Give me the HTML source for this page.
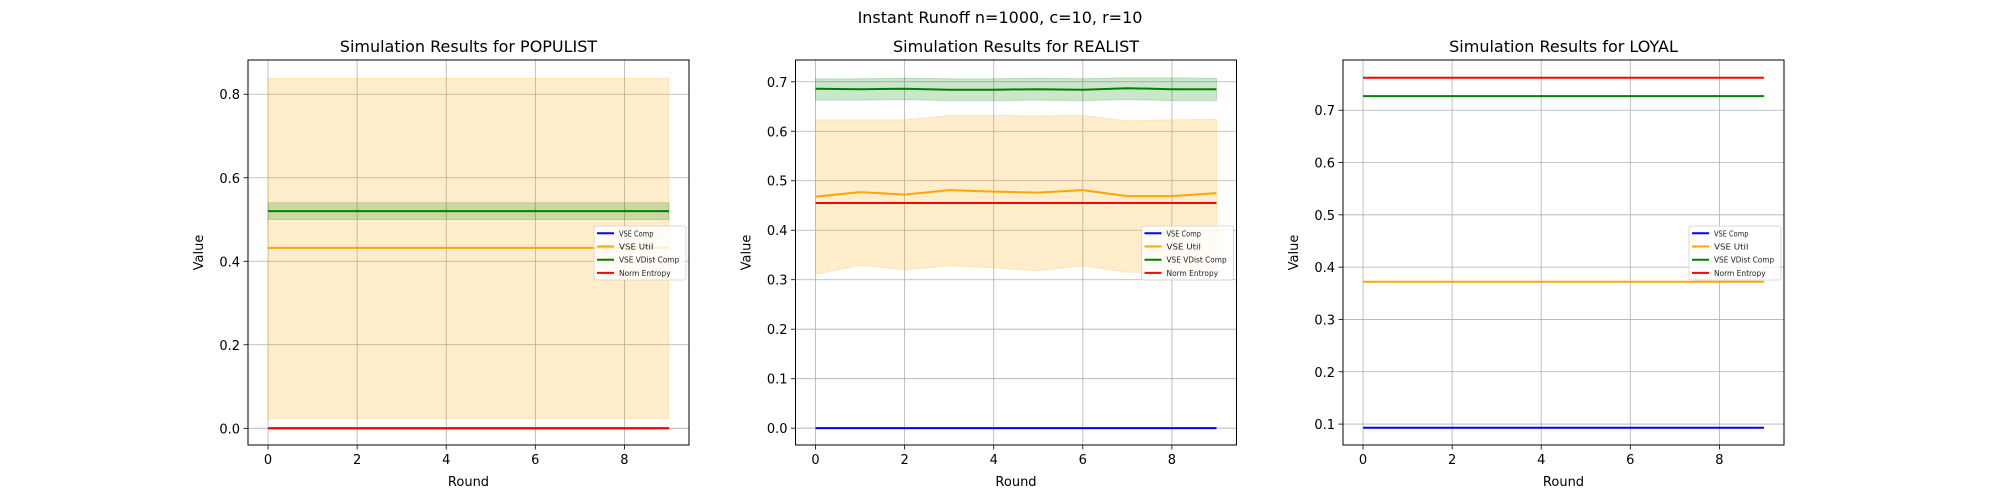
<!DOCTYPE html>
<html><head><meta charset="utf-8"><style>
html,body{margin:0;padding:0;background:#fff;}
svg{display:block;font-family:"DejaVu Sans","Liberation Sans",sans-serif;}
</style></head><body>
<svg id="fig" width="2000" height="500" viewBox="0 0 2000 500" xmlns="http://www.w3.org/2000/svg">
<rect width="2000" height="500" fill="#fff"/>
<text x="1000" y="23" font-size="16" text-anchor="middle" fill="#000">Instant Runoff n=1000, c=10, r=10</text>
</svg>
<script>
const rounds = [0,1,2,3,4,5,6,7,8,9];
const seriesNames = ["VSE Comp","VSE Util","VSE VDist Comp","Norm Entropy"];
const seriesColors = ["#0000ff","#ffa500","#008000","#ff0000"];

// POPULIST
const popComp = [0,0,0,0,0,0,0,0,0,0];
const popUtil = [0.432,0.432,0.432,0.432,0.432,0.432,0.432,0.432,0.432,0.432];
const popUtilLo = [0.023,0.023,0.023,0.023,0.023,0.023,0.023,0.023,0.023,0.023];
const popUtilHi = [0.838,0.838,0.838,0.838,0.838,0.838,0.838,0.838,0.838,0.838];
const popVdist = [0.52,0.52,0.52,0.52,0.52,0.52,0.52,0.52,0.52,0.52];
const popVdistLo = [0.50,0.50,0.50,0.50,0.50,0.50,0.50,0.50,0.50,0.50];
const popVdistHi = [0.54,0.54,0.54,0.54,0.54,0.54,0.54,0.54,0.54,0.54];
const popEnt = [0,0,0,0,0,0,0,0,0,0];
const popTicks = [0.0,0.2,0.4,0.6,0.8];

// REALIST
const realComp = [0,0,0,0,0,0,0,0,0,0];
const realUtil = [0.468,0.477,0.472,0.481,0.478,0.476,0.481,0.469,0.469,0.475];
const realUtilLo = [0.311,0.329,0.320,0.328,0.324,0.318,0.328,0.315,0.315,0.318];
const realUtilHi = [0.623,0.623,0.623,0.632,0.632,0.631,0.632,0.621,0.623,0.624];
const realVdist = [0.686,0.685,0.686,0.684,0.684,0.685,0.684,0.687,0.685,0.685];
const realVdistLo = [0.663,0.663,0.664,0.662,0.662,0.663,0.662,0.664,0.662,0.662];
const realVdistHi = [0.706,0.706,0.707,0.706,0.706,0.707,0.706,0.708,0.708,0.707];
const realEnt = [0.455,0.455,0.455,0.455,0.455,0.455,0.455,0.455,0.455,0.455];
const realTicks = [0.0,0.1,0.2,0.3,0.4,0.5,0.6,0.7];

// LOYAL
const loyComp = [0.093,0.093,0.093,0.093,0.093,0.093,0.093,0.093,0.093,0.093];
const loyUtil = [0.372,0.372,0.372,0.372,0.372,0.372,0.372,0.372,0.372,0.372];
const loyVdist = [0.727,0.727,0.727,0.727,0.727,0.727,0.727,0.727,0.727,0.727];
const loyEnt = [0.762,0.762,0.762,0.762,0.762,0.762,0.762,0.762,0.762,0.762];
const loyTicks = [0.1,0.2,0.3,0.4,0.5,0.6,0.7];

const xTicks = [0,2,4,6,8];

const NS = "http://www.w3.org/2000/svg";
const svg = document.getElementById("fig");
function mk(tag, attrs, parent, text){
  const e = document.createElementNS(NS, tag);
  for (const k in attrs) e.setAttribute(k, attrs[k]);
  if (text !== undefined) e.textContent = text;
  (parent||svg).appendChild(e);
  return e;
}

function panel(key, left, title, ymin, ymax, ticks, decimals, lines, bands){
  const top = 60, bottom = 445, width = 441;
  const xmin = -0.45, xmax = 9.45;
  const X = v => left + (v - xmin) / (xmax - xmin) * width;
  const Y = v => bottom - (v - ymin) / (ymax - ymin) * (bottom - top);
  const g = mk("g", {});
  
  
  const clipId = key + "-clip";
  const cp = mk("clipPath", {id: clipId}, g);
  mk("rect", {x: left, y: top, width: width, height: bottom - top}, cp);
  xTicks.forEach(t => {
    const l = mk("line", {x1: X(t), x2: X(t), y1: top, y2: bottom, stroke: "#b0b0b0", "stroke-width": 0.8}, g);
    
    
  });
  ticks.forEach(t => {
    const l = mk("line", {x1: left, x2: left + width, y1: Y(t), y2: Y(t), stroke: "#b0b0b0", "stroke-width": 0.8}, g);
    
    
  });
  const plot = mk("g", {"clip-path": "url(#" + clipId + ")"}, g);
  bands.forEach(b => {
    let d = "";
    rounds.forEach((r, i) => { d += (i ? "L" : "M") + X(r) + "," + Y(b.hi[i]); });
    for (let i = rounds.length - 1; i >= 0; i--) d += "L" + X(rounds[i]) + "," + Y(b.lo[i]);
    d += "Z";
    const p = mk("path", {d: d, fill: b.color, "fill-opacity": 0.2, stroke: b.color, "stroke-opacity": 0.2, "stroke-width": 1}, plot);
    
    
  });
  lines.forEach((vals, si) => {
    const pts = rounds.map((r, i) => X(r) + "," + Y(vals[i])).join(" ");
    const pl = mk("polyline", {points: pts, fill: "none", stroke: seriesColors[si], "stroke-width": 2}, plot);
    
    
  });
  const fr = mk("rect", {x: left, y: top, width: width, height: bottom - top, fill: "none", stroke: "#000", "stroke-width": 1}, g);
  
  
  xTicks.forEach(t => {
    mk("line", {x1: X(t), x2: X(t), y1: bottom, y2: bottom + 4.5, stroke: "#000", "stroke-width": 0.8}, g);
    const tx = mk("text", {x: X(t), y: bottom + 19, "font-size": 13, "text-anchor": "middle", fill: "#000"}, g, String(t));
    
    
  });
  ticks.forEach(t => {
    mk("line", {x1: left - 4.5, x2: left, y1: Y(t), y2: Y(t), stroke: "#000", "stroke-width": 0.8}, g);
    const ty = mk("text", {x: left - 8, y: Y(t) + 5, "font-size": 13, "text-anchor": "end", fill: "#000"}, g, t.toFixed(decimals));
    
    
  });
  const tt = mk("text", {x: left + width / 2, y: 52, "font-size": 16, "text-anchor": "middle", fill: "#000"}, g, title);
  
  
  const xl = mk("text", {x: left + width / 2, y: 486, "font-size": 13, "text-anchor": "middle", fill: "#000"}, g, "Round");
  
  
  const yx = left - 45, yy = (top + bottom) / 2;
  const yl = mk("text", {x: yx, y: yy, "font-size": 13, "text-anchor": "middle", fill: "#000", transform: "rotate(-90 " + yx + " " + yy + ")"}, g, "Value");
  
  
  const lx = left + width - 95, ly = 226;
  const lg = mk("g", {}, g);
  
  
  mk("rect", {x: lx, y: ly, width: 92, height: 54, rx: 2, fill: "#fff", "fill-opacity": 0.8, stroke: "#d0d0d0", "stroke-width": 0.8}, lg);
  seriesNames.forEach((n, i) => {
    const ey = 233.3 + i * 13.2;
    const e = mk("g", {}, lg);
    
    
    mk("line", {x1: lx + 3, x2: lx + 20, y1: ey, y2: ey, stroke: seriesColors[i], "stroke-width": 2}, e);
    mk("text", {x: lx + 25, y: ey + 3, "font-size": 7.5, fill: "#222", textLength: n.length * 4.3, lengthAdjust: "spacingAndGlyphs"}, e, n);
  });
}

panel("populist", 248, "Simulation Results for POPULIST", -0.040, 0.882, popTicks, 1,
  [popComp, popUtil, popVdist, popEnt],
  [{name: "vse-util", color: "#ffa500", lo: popUtilLo, hi: popUtilHi},
   {name: "vse-vdist-comp", color: "#008000", lo: popVdistLo, hi: popVdistHi}]);
panel("realist", 795.5, "Simulation Results for REALIST", -0.034, 0.744, realTicks, 1,
  [realComp, realUtil, realVdist, realEnt],
  [{name: "vse-util", color: "#ffa500", lo: realUtilLo, hi: realUtilHi},
   {name: "vse-vdist-comp", color: "#008000", lo: realVdistLo, hi: realVdistHi}]);
panel("loyal", 1343, "Simulation Results for LOYAL", 0.060, 0.796, loyTicks, 1,
  [loyComp, loyUtil, loyVdist, loyEnt], []);
</script>
</body></html>
